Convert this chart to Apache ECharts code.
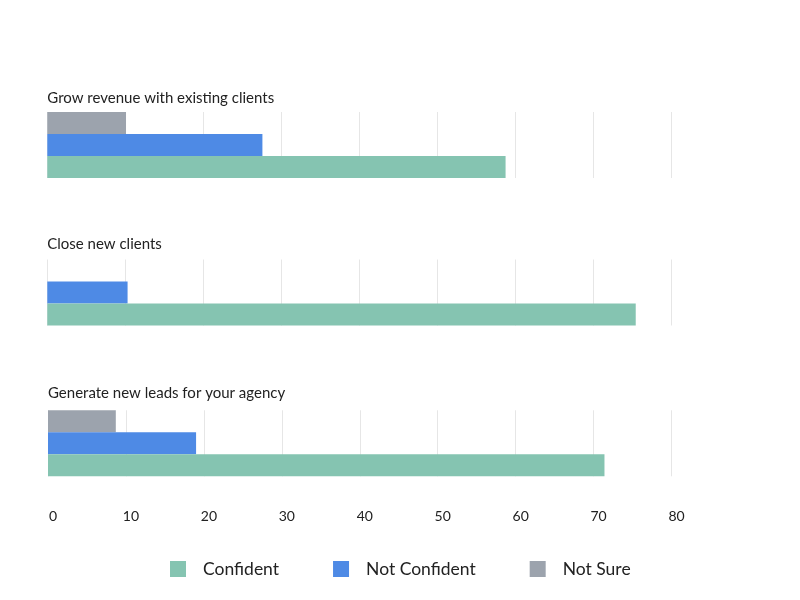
<!DOCTYPE html>
<html>
<head>
<meta charset="utf-8">
<script src="https://cdn.jsdelivr.net/npm/echarts@6/dist/echarts.min.js"></script>
<style>html,body{margin:0;padding:0;background:#fff;}#c{width:800px;height:600px;}</style>
</head>
<body>
<div id="c"></div>
<script>
const categories = ['Grow revenue with existing clients', 'Close new clients', 'Generate new leads for your agency'];
const seriesNames = ['Confident', 'Not Confident', 'Not Sure'];
const confident = [58.8, 75.5, 71.4];
const notConfident = [27.6, 10.3, 19.0];
const notSure = [10.1, 0, 8.7];
const tickValues = [0, 10, 20, 30, 40, 50, 60, 70, 80];

const colors = ['#85c4b1', '#4e8ae5', '#9ca3ad'];
const valuesBySeries = [confident, notConfident, notSure];
const FONT = 'Lato';

const panels = [
  { left: 47.3, top: 112, titleTop: 91 },
  { left: 47.3, top: 259.5, titleTop: 237 },
  { left: 48, top: 410.3, titleTop: 386 }
];
const PANEL_W = 623.5, PANEL_H = 66;

const grids = [], xAxes = [], yAxes = [], series = [], titles = [];
panels.forEach((p, i) => {
  grids.push({ left: p.left, top: p.top, width: PANEL_W, height: PANEL_H, containLabel: false });
  const last = i === panels.length - 1;
  xAxes.push({
    type: 'value', gridIndex: i, min: tickValues[0], max: tickValues[tickValues.length - 1], interval: 10,
    axisLine: { show: false }, axisTick: { show: false },
    splitLine: { show: true, lineStyle: { color: '#e6e6e6', width: 1 } },
    axisLabel: { show: last, margin: 33, padding: [0, 0, 0, 10], color: '#222', fontSize: 14, fontFamily: FONT }
  });
  yAxes.push({
    type: 'category', gridIndex: i, data: [categories[i]],
    axisLine: { show: false }, axisTick: { show: false }, axisLabel: { show: false }
  });
  titles.push({
    text: categories[i], left: p.left, top: p.titleTop, padding: 0,
    textStyle: { fontSize: 15, fontWeight: 'normal', color: '#222', fontFamily: FONT }
  });
  // stacked top-to-bottom: Not Sure, Not Confident, Confident
  for (let s = seriesNames.length - 1; s >= 0; s--) {
    series.push({
      name: seriesNames[s], type: 'bar', xAxisIndex: i, yAxisIndex: i,
      data: [valuesBySeries[s][i]],
      barGap: '0%', barCategoryGap: '0%',
      itemStyle: { color: colors[s] },
      animation: false
    });
  }
});

const chart = echarts.init(document.getElementById('c'));
chart.setOption({
  backgroundColor: '#fff',
  animation: false,
  title: titles,
  legend: {
    data: seriesNames, left: 165, top: 555, icon: 'rect', itemWidth: 16, itemHeight: 16, itemGap: 54,
    textStyle: { fontSize: 17.5, color: '#222', fontFamily: FONT, padding: [0, 0, 0, 12] }
  },
  grid: grids, xAxis: xAxes, yAxis: yAxes, series: series
});
</script>
</body>
</html>
